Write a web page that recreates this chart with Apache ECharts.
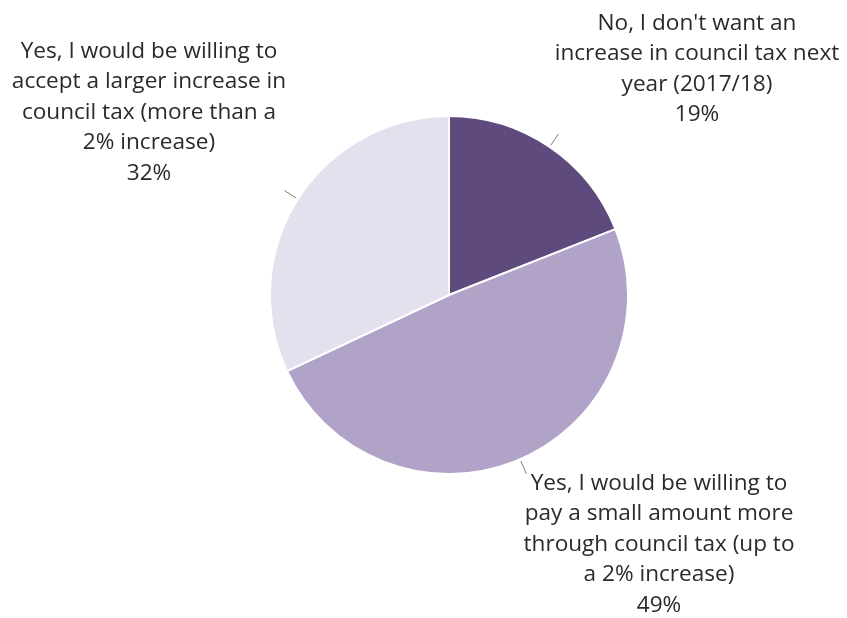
<!DOCTYPE html>
<html>
<head>
<meta charset="utf-8">
<script src="https://cdn.jsdelivr.net/npm/echarts@6/dist/echarts.min.js"></script>
<style>
  html, body { margin: 0; padding: 0; background: #ffffff; }
  #chart { width: 847px; height: 618px; }
</style>
</head>
<body>
<div id="chart"></div>
<script>
// Survey answers on a council tax rise for 2017/18
const categories = [
  "No, I don't want an\nincrease in council tax next\nyear (2017/18)",
  "Yes, I would be willing to\npay a small amount more\nthrough council tax (up to\na 2% increase)",
  "Yes, I would be willing to\naccept a larger increase in\ncouncil tax (more than a\n2% increase)"
];
const shares = [19, 49, 32];
const colors = ['#5e4a7c', '#b1a2c8', '#e4e0ed'];

// Where each answer's text block sits (centre x, top y)
const labelSpots = [
  { x: 697, y: 8 },
  { x: 659, y: 468 },
  { x: 149, y: 36 }
];

const sliceData = categories.map((name, i) => ({
  name: name,
  value: shares[i],
  itemStyle: { color: colors[i] }
}));

const chart = echarts.init(document.getElementById('chart'), null, { renderer: 'canvas' });

chart.setOption({
  backgroundColor: '#ffffff',
  animation: false,
  series: [
    {
      type: 'pie',
      center: [449, 295],
      radius: [0, 179],
      startAngle: 90,
      clockwise: true,
      silent: true,
      itemStyle: { borderColor: '#ffffff', borderWidth: 2 },
      label: {
        show: true,
        position: 'inside',
        formatter: p => p.name + '\n' + p.value + '%',
        fontFamily: '"Open Sans", Lato, sans-serif',
        fontSize: 22.6,
        lineHeight: 30.5,
        color: '#2a2a2a',
        align: 'center',
        overflow: 'none'
      },
      labelLine: { show: false },
      labelLayout: params => ({
        x: labelSpots[params.dataIndex].x,
        y: labelSpots[params.dataIndex].y,
        align: 'center',
        verticalAlign: 'top'
      }),
      data: sliceData
    },
    {
      // short leader ticks just outside each slice
      type: 'pie',
      center: [449, 295],
      radius: [0, 181],
      startAngle: 90,
      clockwise: true,
      silent: true,
      z: 1,
      itemStyle: { color: 'rgba(0,0,0,0)', borderWidth: 0 },
      label: { show: true, formatter: ' ', fontSize: 1 },
      labelLine: {
        show: true,
        length: 14,
        length2: 0,
        lineStyle: { color: '#7f7f7f', width: 1 }
      },
      data: shares.map((v, i) => ({ name: 'tick' + i, value: v }))
    }
  ]
});
</script>
</body>
</html>
